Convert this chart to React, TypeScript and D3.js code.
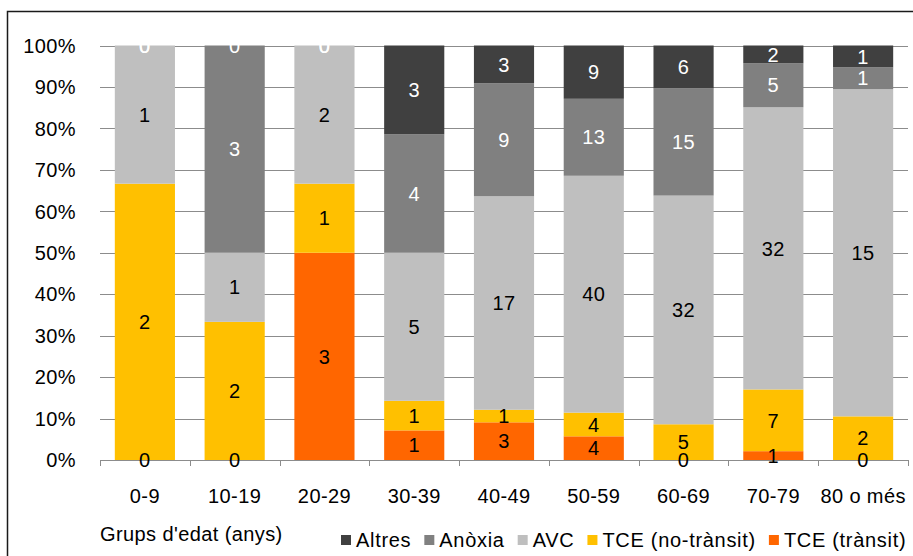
import React, { useEffect, useRef } from "react";
import * as d3 from "d3";

const categories = ["0-9", "10-19", "20-29", "30-39", "40-49", "50-59", "60-69", "70-79", "80 o més"];
const tceTransit = [0, 0, 3, 1, 3, 4, 0, 1, 0];
const tceNoTransit = [2, 2, 1, 1, 1, 4, 5, 7, 2];
const avc = [1, 1, 2, 5, 17, 40, 32, 32, 15];
const anoxia = [0, 3, 0, 4, 9, 13, 15, 5, 1];
const altres = [0, 0, 0, 3, 3, 9, 6, 2, 1];

const seriesKeys = ["TCE (trànsit)", "TCE (no-trànsit)", "AVC", "Anòxia", "Altres"];
const seriesValues = [tceTransit, tceNoTransit, avc, anoxia, altres];
const seriesColors = ["#FF6600", "#FFC000", "#BFBFBF", "#808080", "#404040"];
const labelColors = ["#000000", "#000000", "#000000", "#FFFFFF", "#FFFFFF"];
const legendOrder = ["Altres", "Anòxia", "AVC", "TCE (no-trànsit)", "TCE (trànsit)"];
const yTicks = [0, 0.1, 0.2, 0.3, 0.4, 0.5, 0.6, 0.7, 0.8, 0.9, 1];
const axisTitle = "Grups d'edat (anys)";

const W = 913;
const H = 556;
const FONT = "'Liberation Sans', Arial, sans-serif";

export default function App() {
  const ref = useRef<SVGSVGElement | null>(null);

  useEffect(() => {
    const svg = d3.select(ref.current);
    svg.selectAll("*").remove();

    const left = 100, right = 908, top = 45.5, bottom = 460;
    const x = d3.scaleBand<string>().domain(categories).range([left, right]).paddingInner(0.33).paddingOuter(0.165);
    const y = d3.scaleLinear().domain([0, 1]).range([bottom, top]);

    const rows = categories.map((c, i) => {
      const r: any = { cat: c };
      seriesKeys.forEach((k, j) => (r[k] = seriesValues[j][i]));
      return r;
    });
    const stacked = d3.stack<any>().keys(seriesKeys).offset(d3.stackOffsetExpand)(rows);

    // outer border
    svg.append("rect").attr("x", 7.5).attr("y", 11.5).attr("width", 1200).attr("height", 1200)
      .attr("fill", "none").attr("stroke", "#1a1a1a").attr("stroke-width", 1.5);

    // gridlines
    svg.append("g").selectAll("line").data(yTicks.filter((t) => t > 0)).join("line")
      .attr("x1", left).attr("x2", right).attr("y1", (d) => Math.round(y(d)) + 0.5).attr("y2", (d) => Math.round(y(d)) + 0.5)
      .attr("stroke", "#8C8C8C").attr("stroke-width", 1);

    // bars
    stacked.forEach((s, j) => {
      svg.append("g").selectAll("rect").data(s).join("rect")
        .attr("x", (d: any) => x(d.data.cat)!)
        .attr("width", x.bandwidth())
        .attr("y", (d: any) => y(d[1]))
        .attr("height", (d: any) => Math.max(0, y(d[0]) - y(d[1])))
        .attr("fill", seriesColors[j]);
    });

    // axis line & ticks
    svg.append("line").attr("x1", left).attr("x2", right).attr("y1", bottom + 0.5).attr("y2", bottom + 0.5)
      .attr("stroke", "#8C8C8C").attr("stroke-width", 1);
    const step = x.step();
    svg.append("g").selectAll("line").data(d3.range(categories.length + 1)).join("line")
      .attr("x1", (i) => Math.round(left + i * step) + 0.5).attr("x2", (i) => Math.round(left + i * step) + 0.5)
      .attr("y1", bottom).attr("y2", bottom + 6).attr("stroke", "#8C8C8C").attr("stroke-width", 1);

    const textStyle = (sel: any) =>
      sel.attr("font-family", FONT).attr("font-size", 20).attr("letter-spacing", "0.4px");

    // data labels
    stacked.forEach((s, j) => {
      svg.append("g").selectAll("text").data(s).join("text")
        .call(textStyle)
        .attr("x", (d: any) => x(d.data.cat)! + x.bandwidth() / 2)
        .attr("y", (d: any) => (y(d[0]) + y(d[1])) / 2)
        .attr("dy", "0.36em")
        .attr("text-anchor", "middle")
        .attr("fill", labelColors[j])
        .text((d: any) => String(d.data[seriesKeys[j]]));
    });

    // y tick labels
    svg.append("g").selectAll("text").data(yTicks).join("text")
      .call(textStyle)
      .attr("x", 76).attr("y", (d) => y(d)).attr("dy", "0.36em")
      .attr("text-anchor", "end").attr("fill", "#000")
      .text((d) => d3.format(".0%")(d));

    // x tick labels
    svg.append("g").selectAll("text").data(categories).join("text")
      .call(textStyle)
      .attr("x", (d) => x(d)! + x.bandwidth() / 2).attr("y", 503)
      .attr("text-anchor", "middle").attr("fill", "#000")
      .text((d) => d);

    // axis title
    svg.append("text").call(textStyle).attr("x", 100).attr("y", 541).attr("fill", "#000").text(axisTitle);

    // legend
    const lg = svg.append("g");
    let lx = 341;
    legendOrder.forEach((name) => {
      const idx = seriesKeys.indexOf(name);
      lg.append("rect").attr("x", lx).attr("y", 535).attr("width", 10).attr("height", 10).attr("fill", seriesColors[idx]);
      const t = lg.append("text").call(textStyle).attr("letter-spacing", "0.7px")
        .attr("x", lx + 15).attr("y", 547).attr("fill", "#000").text(name);
      const w = (t.node() as SVGTextElement).getComputedTextLength();
      lx += 15 + w + 13;
    });
  }, []);

  return (
    <svg
      ref={ref}
      width={W}
      height={H}
      style={{ position: "absolute", left: 0, top: 0, background: "#fff" }}
    />
  );
}
